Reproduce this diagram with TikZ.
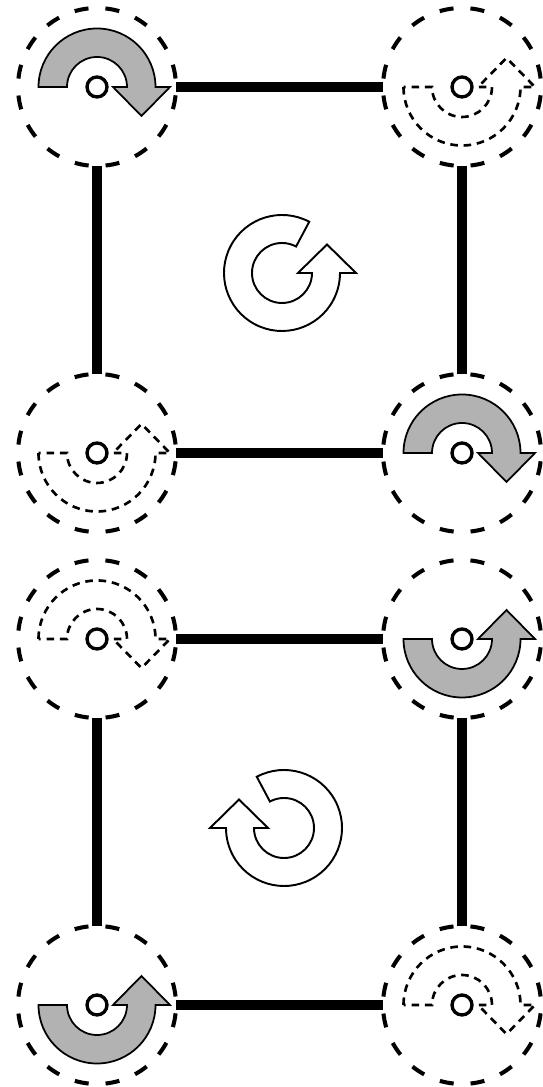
\documentclass[tikz,border=0pt]{standalone}
\usepackage{tikz}

\tikzset{
  % half-turn arrow round a pivot, head at the right pointing down
  spin/.pic={
    \draw[pic actions] (-1.17,0) arc[start angle=180,end angle=0,radius=1.17]
      -- (1.46,0) -- (0.89,-0.58) -- (0.32,0) -- (0.6,0)
      arc[start angle=0,end angle=180,radius=0.6] -- cycle;
  },
  % almost full turn, head at the right pointing up
  loop/.pic={
    \draw[pic actions] (62:1.16) arc[start angle=62,end angle=360,radius=1.16]
      -- (1.48,0) -- (0.9,0.57) -- (0.32,0) -- (0.6,0)
      arc[start angle=360,end angle=62,radius=0.6] -- cycle;
  }
}

\begin{document}
\begin{tikzpicture}[
  joint/.style={circle,draw,line width=2.3pt,dash pattern=on 8pt off 9.66pt,dash phase=12.83pt,minimum size=3.16cm,inner sep=0pt,outer sep=0pt},
  link/.style={line width=5.7pt},
  rotor/.style={draw,fill=black!30,line width=1pt},
  trail/.style={draw,line width=1.5pt,dash pattern=on 4.3pt off 3.3pt},
  swirl/.style={draw,fill=white,line width=1.1pt},
  pivot/.style={draw,fill=white,line width=1.9pt}
]
\useasboundingbox (0,0) rectangle (10.84,21.74);
% Upper square
\node[joint] (nw1) at (1.94,20.00) {};
\node[joint] (ne1) at (9.24,20.00) {};
\node[joint] (sw1) at (1.94,12.68) {};
\node[joint] (se1) at (9.24,12.68) {};
% Lower square
\node[joint] (nw2) at (1.94,8.96) {};
\node[joint] (ne2) at (9.24,8.96) {};
\node[joint] (sw2) at (1.94,1.64) {};
\node[joint] (se2) at (9.24,1.64) {};

\draw[link] (nw1) -- (ne1); \draw[link] (sw1) -- (se1);
\draw[link] (nw1) -- (sw1); \draw[link] (ne1) -- (se1);
\draw[link] (nw2) -- (ne2); \draw[link] (sw2) -- (se2);
\draw[link] (nw2) -- (sw2); \draw[link] (ne2) -- (se2);

% Turns at the joints
\pic[rotor] at (nw1) {spin};
\pic[trail,yscale=-1] at (ne1) {spin};
\pic[trail,yscale=-1] at (sw1) {spin};
\pic[rotor] at (se1) {spin};
\pic[trail] at (nw2) {spin};
\pic[rotor,yscale=-1] at (ne2) {spin};
\pic[rotor,yscale=-1] at (sw2) {spin};
\pic[trail] at (se2) {spin};

% Sense of each square
\pic[swirl] at (5.64,16.28) {loop};
\pic[swirl,xscale=-1] at (5.68,5.18) {loop};

% Pivots
\draw[pivot] (nw1) circle[radius=0.2]; \draw[pivot] (ne1) circle[radius=0.2];
\draw[pivot] (sw1) circle[radius=0.2]; \draw[pivot] (se1) circle[radius=0.2];
\draw[pivot] (nw2) circle[radius=0.2]; \draw[pivot] (ne2) circle[radius=0.2];
\draw[pivot] (sw2) circle[radius=0.2]; \draw[pivot] (se2) circle[radius=0.2];
\end{tikzpicture}
\end{document}
